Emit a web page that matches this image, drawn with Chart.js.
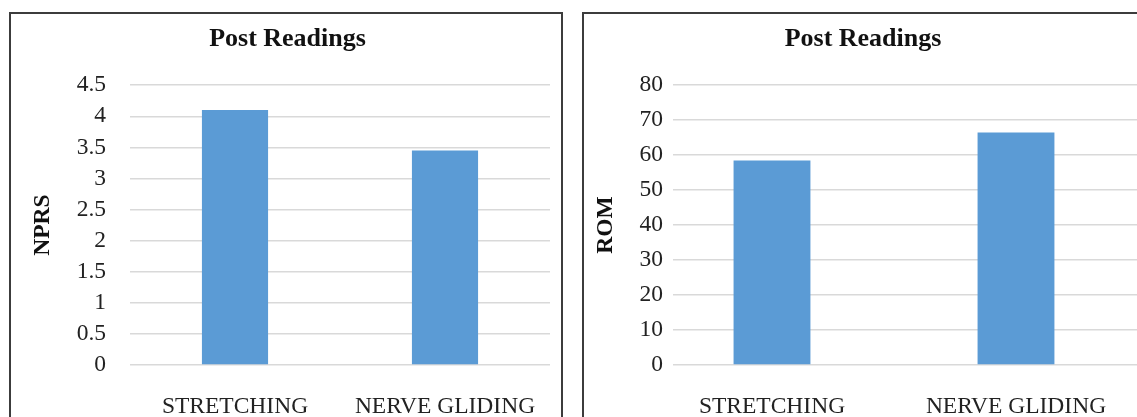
<!DOCTYPE html>
<html>
<head>
<meta charset="utf-8">
<title>Post Readings</title>
<script src="https://cdn.jsdelivr.net/npm/chart.js@4.4.1/dist/chart.umd.min.js"></script>
<style>
  html, body { margin: 0; padding: 0; background: #fff; width: 1137px; height: 417px; overflow: hidden; position: relative; }
  .panel { position: absolute; border: 2px solid #3c3c3c; box-sizing: border-box; background: #fff; }
  #panelA { left: 9px; top: 12px; width: 554px; height: 440px; }
  #panelB { left: 582px; top: 12px; width: 600px; height: 440px; }
  canvas { position: absolute; }
  #nprsChart { left: 11px; top: 14px; }
  #romChart { left: 547px; top: 14px; }
</style>
</head>
<body>
<div class="panel" id="panelA"></div>
<div class="panel" id="panelB"></div>
<canvas id="nprsChart" width="550" height="411"></canvas>
<canvas id="romChart" width="593" height="411"></canvas>
<script>
// Groups compared after treatment
const categories = ['STRETCHING', 'NERVE GLIDING'];

// Pain score (NPRS) and range of motion (ROM) after treatment
const nprsValues = [4.1, 3.45];
const romValues = [58.5, 66.5];

// Value-axis ticks
const nprsTicks = [0, 0.5, 1, 1.5, 2, 2.5, 3, 3.5, 4, 4.5];
const romTicks = [0, 10, 20, 30, 40, 50, 60, 70, 80];

const serif = "'Liberation Serif', 'Times New Roman', serif";
Chart.defaults.font.family = serif;
Chart.defaults.color = '#222';

function makePanel(id, opts) {
  return new Chart(document.getElementById(id), {
    type: 'bar',
    data: {
      datasets: [{
        data: opts.values.map((v, i) => ({ x: i, y: v })),
        backgroundColor: '#5B9BD5',
        borderWidth: 0,
        categoryPercentage: 1,
        barPercentage: 0.315
      }]
    },
    options: {
      responsive: false,
      animation: false,
      layout: { padding: opts.pad },
      plugins: {
        legend: { display: false },
        tooltip: { enabled: false },
        title: {
          display: true,
          text: 'Post Readings',
          color: '#111',
          font: { family: serif, size: 26, weight: 'bold' },
          padding: { top: 10, bottom: 30 }
        }
      },
      scales: {
        x: {
          type: 'linear',
          min: opts.xMin,
          max: opts.xMax,
          offset: false,
          grid: { display: false },
          border: { display: false },
          afterBuildTicks: (s) => { s.ticks = categories.map((_, i) => ({ value: i })); },
          afterFit: (s) => { s.height = 60; },
          ticks: {
            callback: (v) => categories[v],
            font: { size: 23.5 },
            padding: 20,
            maxRotation: 0,
            autoSkip: false
          }
        },
        y: {
          min: opts.ticks[0],
          max: opts.ticks[opts.ticks.length - 1],
          grid: { color: '#d9d9d9', lineWidth: 1.5, drawTicks: false },
          border: { display: false },
          afterBuildTicks: (s) => { s.ticks = opts.ticks.map((v) => ({ value: v })); },
          afterFit: (s) => { s.width = opts.yAxisWidth; },
          ticks: {
            callback: (v) => String(v),
            font: { size: 23.5 },
            padding: opts.yTickPad,
            autoSkip: false
          },
          title: {
            display: true,
            text: opts.axisTitle,
            color: '#111',
            font: { size: 23.5, weight: 'bold' },
            padding: { top: 4, bottom: 4 }
          }
        }
      }
    }
  });
}

makePanel('nprsChart', {
  values: nprsValues,
  ticks: nprsTicks,
  axisTitle: 'NPRS',
  xMin: -0.5,
  xMax: 1.5,
  pad: { left: 14, right: 11, top: 0, bottom: 0 },
  yAxisWidth: 105,
  yTickPad: 24
});

makePanel('romChart', {
  values: romValues,
  ticks: romTicks,
  axisTitle: 'ROM',
  xMin: -0.4057,
  xMax: 1.5,
  pad: { left: 41, right: 2, top: 0, bottom: 0 },
  yAxisWidth: 85,
  yTickPad: 10
});
</script>
</body>
</html>
